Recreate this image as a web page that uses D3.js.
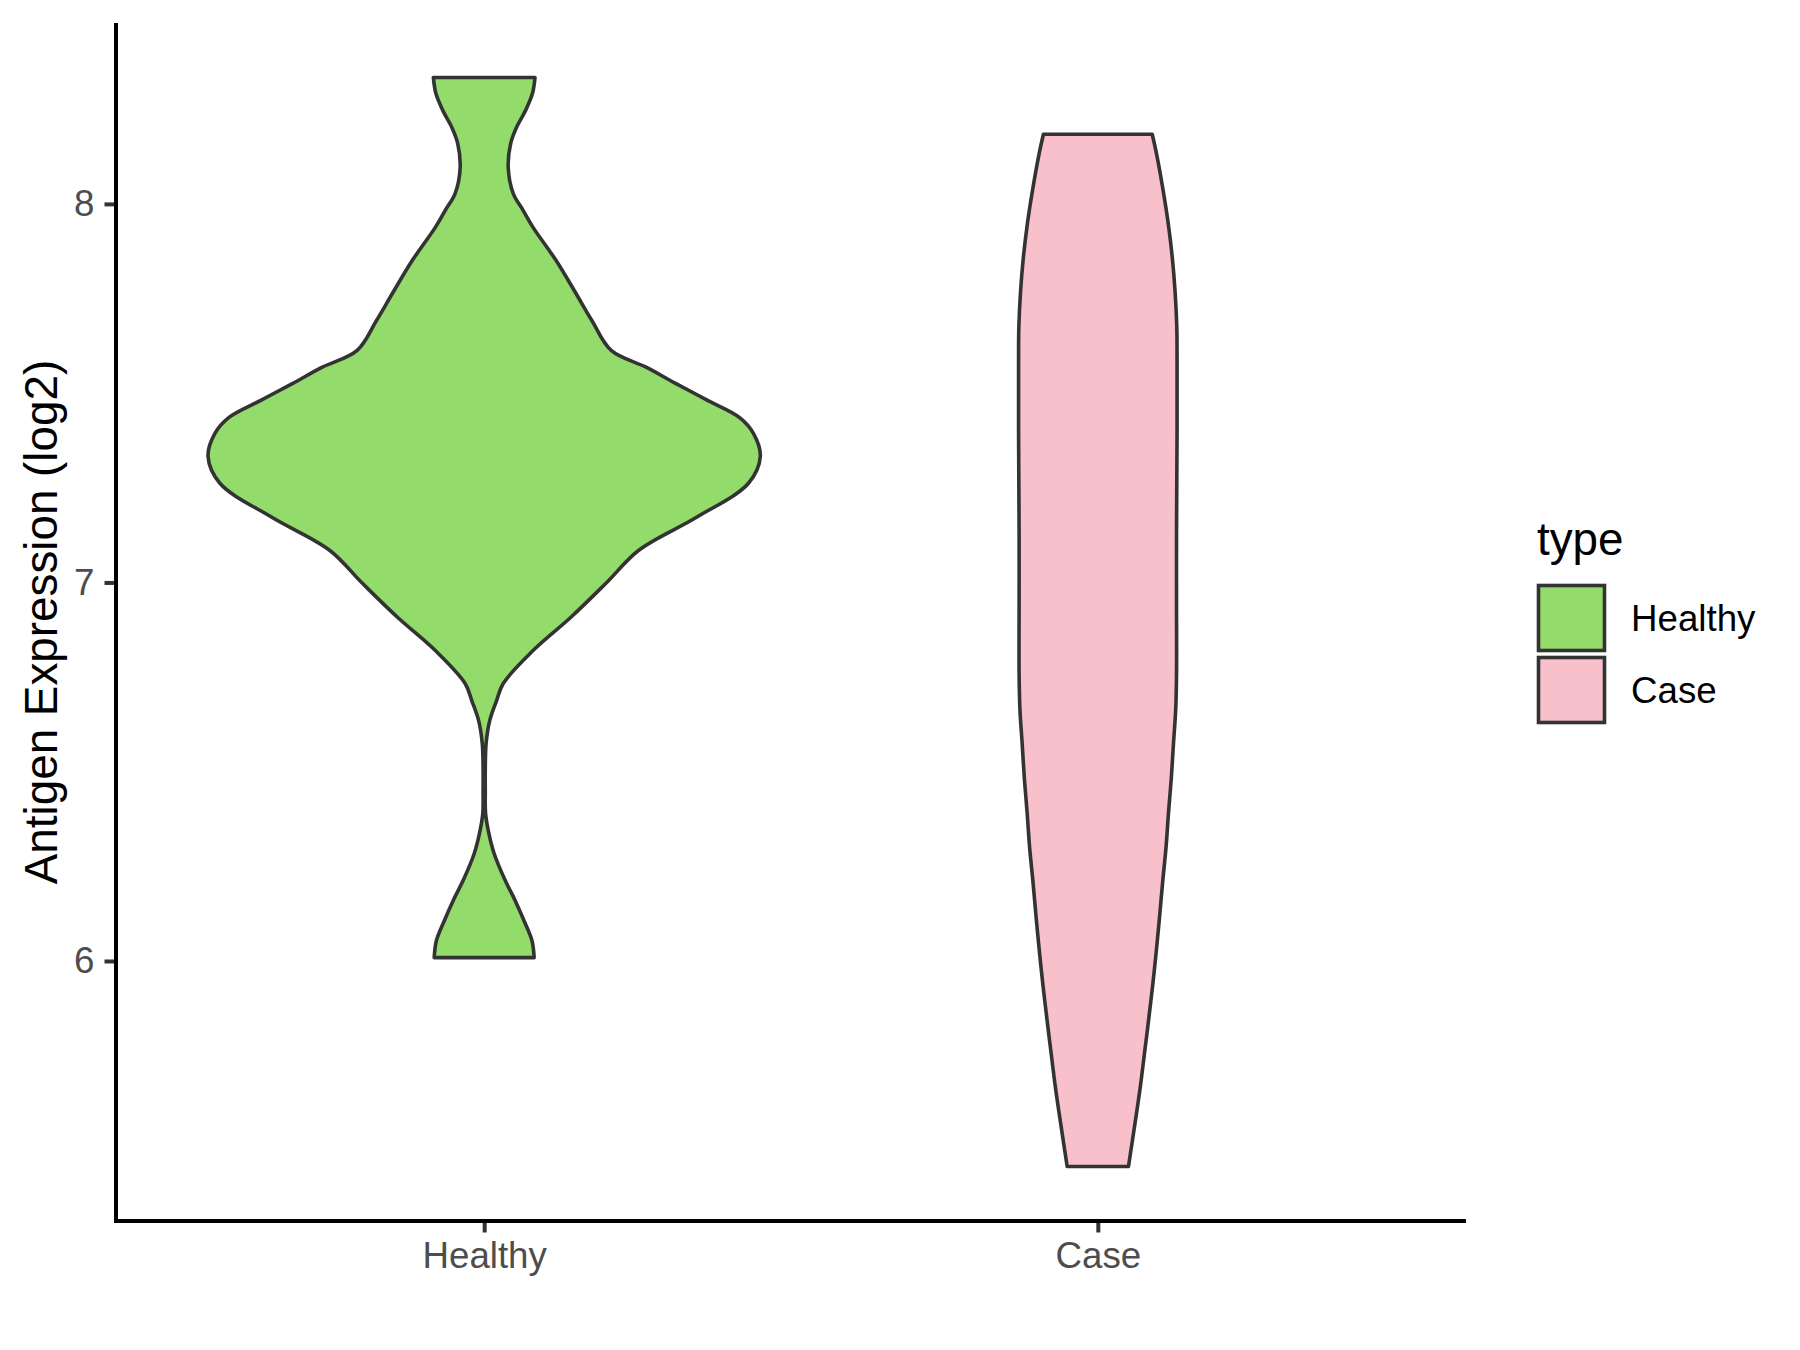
<!DOCTYPE html>
<html>
<head>
<meta charset="utf-8">
<script src="https://cdn.jsdelivr.net/npm/d3@7"></script>
<style>
  html, body { margin: 0; padding: 0; background: #ffffff; }
  svg { display: block; }
  text { font-family: "Liberation Sans", Arial, Helvetica, sans-serif; }
</style>
</head>
<body>
<svg id="chart" width="1800" height="1350"></svg>
<script>
// ---- data ----
const categories = ["Healthy", "Case"];
const fills = ["#93DB6B", "#F7C0CB"];

// Healthy violin profile: expression value (log2) and relative density
const healthyValues = [8.334, 8.292, 8.247, 8.202, 8.160, 8.096, 8.028, 7.983, 7.938, 7.851,
  7.764, 7.692, 7.613, 7.568, 7.526, 7.481, 7.436, 7.394, 7.333, 7.262,
  7.172, 7.085, 6.997, 6.908, 6.820, 6.733, 6.688, 6.635, 6.575, 6.511,
  6.450, 6.390, 6.337, 6.284, 6.213, 6.160, 6.107, 6.054, 6.009];
const healthyDensity = [0.184, 0.175, 0.150, 0.117, 0.096, 0.087, 0.105, 0.141, 0.177, 0.260,
  0.332, 0.390, 0.460, 0.588, 0.693, 0.809, 0.924, 0.975, 1.000, 0.957,
  0.769, 0.560, 0.440, 0.314, 0.177, 0.069, 0.045, 0.020, 0.007, 0.004,
  0.004, 0.005, 0.017, 0.036, 0.076, 0.112, 0.144, 0.173, 0.181];

// Case violin profile
const caseValues = [8.184, 8.131, 8.038, 7.948, 7.856, 7.766, 7.674, 7.584, 7.402, 7.129,
  6.947, 6.757, 6.664, 6.575, 6.482, 6.392, 6.300, 6.210, 6.120, 6.028,
  5.938, 5.845, 5.756, 5.663, 5.573, 5.457];
const caseDensity = [0.197, 0.213, 0.236, 0.255, 0.270, 0.280, 0.286, 0.287, 0.287, 0.285,
  0.285, 0.285, 0.282, 0.274, 0.266, 0.256, 0.247, 0.235, 0.224, 0.212,
  0.199, 0.184, 0.169, 0.153, 0.135, 0.111];

const yTicks = [6, 7, 8];
const yTitle = "Antigen Expression (log2)";
const legendTitle = "type";

// ---- layout ----
const panel = { left: 116, right: 1466, top: 23, bottom: 1221 };
const svg = d3.select("#chart");

const violins = [
  { cat: categories[0], fill: fills[0], pts: healthyValues.map((v, i) => ({ v, d: healthyDensity[i] })) },
  { cat: categories[1], fill: fills[1], pts: caseValues.map((v, i) => ({ v, d: caseDensity[i] })) }
];

const allVals = healthyValues.concat(caseValues);
const vmin = d3.min(allVals), vmax = d3.max(allVals);
const pad = 0.05 * (vmax - vmin);

const y = d3.scaleLinear().domain([vmin - pad, vmax + pad]).range([panel.bottom, panel.top]);
const x = d3.scalePoint().domain(categories).range([panel.left, panel.right]).padding(0.6);
const maxD = d3.max(healthyDensity.concat(caseDensity));
const w = d3.scaleLinear().domain([0, maxD]).range([0, 0.45 * x.step()]);

// ---- violins ----
violins.forEach(vio => {
  const cx = x(vio.cat);
  const area = d3.area()
    .y(p => y(p.v))
    .x0(p => cx - w(p.d))
    .x1(p => cx + w(p.d))
    .curve(d3.curveCatmullRom.alpha(0.5));
  svg.append("path")
    .attr("d", area(vio.pts))
    .attr("fill", vio.fill)
    .attr("stroke", "#333333")
    .attr("stroke-width", 3.6)
    .attr("stroke-linejoin", "round");
});

// ---- axes ----
const yAxis = d3.axisLeft(y).tickValues(yTicks).tickFormat(d3.format("d")).tickSize(11.5).tickPadding(10);
const gy = svg.append("g").attr("transform", `translate(${panel.left},0)`).call(yAxis);
gy.select(".domain").remove();
gy.selectAll(".tick line").attr("stroke", "#333333").attr("stroke-width", 4);
gy.selectAll(".tick text").attr("fill", "#4D4D4D").attr("font-size", 36.7)
  .attr("font-family", "Liberation Sans, Arial, sans-serif");

const xAxis = d3.axisBottom(x).tickSize(11.5).tickPadding(9);
const gx = svg.append("g").attr("transform", `translate(0,${panel.bottom})`).call(xAxis);
gx.select(".domain").remove();
gx.selectAll(".tick line").attr("stroke", "#333333").attr("stroke-width", 4);
gx.selectAll(".tick text").attr("fill", "#4D4D4D").attr("font-size", 36.7)
  .attr("font-family", "Liberation Sans, Arial, sans-serif");

// axis lines
svg.append("line").attr("x1", panel.left).attr("x2", panel.left)
  .attr("y1", panel.top).attr("y2", panel.bottom + 2)
  .attr("stroke", "#000").attr("stroke-width", 4);
svg.append("line").attr("x1", panel.left - 2).attr("x2", panel.right)
  .attr("y1", panel.bottom).attr("y2", panel.bottom)
  .attr("stroke", "#000").attr("stroke-width", 4);

// y title
svg.append("text")
  .attr("transform", `translate(57,${(panel.top + panel.bottom) / 2}) rotate(-90)`)
  .attr("text-anchor", "middle")
  .attr("font-size", 45.8)
  .attr("fill", "#000")
  .text(yTitle);

// ---- legend ----
const lg = svg.append("g");
lg.append("text").attr("x", 1537).attr("y", 555).attr("font-size", 45.8).attr("fill", "#000").text(legendTitle);
violins.forEach((vio, i) => {
  const top = 585.5 + i * 72;
  lg.append("rect").attr("x", 1538.5).attr("y", top).attr("width", 66).attr("height", 65)
    .attr("fill", vio.fill).attr("stroke", "#333333").attr("stroke-width", 3.6);
  lg.append("text").attr("x", 1631).attr("y", top + 45.5).attr("font-size", 36.7)
    .attr("fill", "#000").text(vio.cat);
});
</script>
</body>
</html>
